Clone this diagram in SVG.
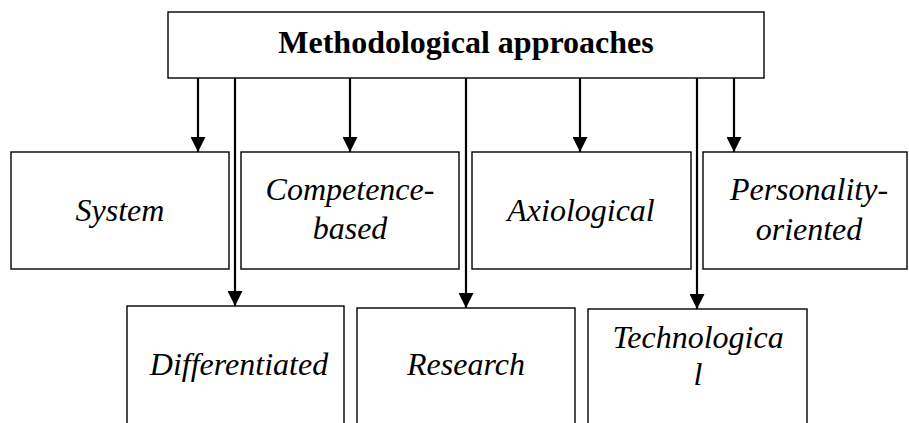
<svg xmlns="http://www.w3.org/2000/svg" width="909" height="423" viewBox="0 0 909 423">
<style>
.box{fill:#fff;stroke:#000;stroke-width:1.4}
text{font-family:'Liberation Serif','Times New Roman','DejaVu Serif',serif;font-size:32px;fill:#000;text-anchor:middle}
.t{font-style:italic}
.title{font-weight:bold}
.c{stroke:#000;stroke-width:2.2;fill:none;marker-end:url(#ah)}
</style>
<defs>
<marker id="ah" markerUnits="userSpaceOnUse" markerWidth="15" markerHeight="15" refX="15" refY="7.5" orient="auto">
<path d="M0,0 L15,7.5 L0,15 Z" fill="#000"/>
</marker>
</defs>
<rect width="909" height="423" fill="#fff"/>
<g id="root">
<rect class="box" x="168" y="12" width="596" height="66"/>
<text class="title" x="466" y="53" font-family="Liberation Serif, serif">Methodological approaches</text>
</g>
<g id="system">
<rect class="box" x="11" y="152" width="218" height="117"/>
<text class="t" x="120" y="221" font-family="Liberation Serif, serif">System</text>
</g>
<g id="competence">
<rect class="box" x="241" y="152" width="218" height="117"/>
<text class="t" x="350" y="200" font-family="Liberation Serif, serif">Competence-</text>
<text class="t" x="350" y="239" font-family="Liberation Serif, serif">based</text>
</g>
<g id="axiological">
<rect class="box" x="472" y="152" width="219" height="117"/>
<text class="t" x="581" y="221" font-family="Liberation Serif, serif">Axiological</text>
</g>
<g id="personality">
<rect class="box" x="703" y="152" width="204" height="117"/>
<text class="t" x="809" y="200" font-family="Liberation Serif, serif">Personality-</text>
<text class="t" x="809" y="240" font-family="Liberation Serif, serif">oriented</text>
</g>
<g id="differentiated">
<rect class="box" x="127" y="306" width="217" height="130"/>
<text class="t" x="239" y="375" font-family="Liberation Serif, serif">Differentiated</text>
</g>
<g id="research">
<rect class="box" x="357" y="308" width="218" height="130"/>
<text class="t" x="466" y="375" font-family="Liberation Serif, serif">Research</text>
</g>
<g id="technological">
<rect class="box" x="588" y="309" width="219" height="130"/>
<text class="t" x="698" y="348" font-family="Liberation Serif, serif">Technologica</text>
<text class="t" x="698" y="385" font-family="Liberation Serif, serif">l</text>
</g>
<g id="connectors">
<line class="c" x1="198" y1="78" x2="198" y2="152"/>
<line class="c" x1="350" y1="78" x2="350" y2="152"/>
<line class="c" x1="580" y1="78" x2="580" y2="152"/>
<line class="c" x1="734" y1="78" x2="734" y2="152"/>
<line class="c" x1="235" y1="78" x2="235" y2="306"/>
<line class="c" x1="466" y1="78" x2="466" y2="308"/>
<line class="c" x1="697" y1="78" x2="697" y2="309"/>
</g>
</svg>
